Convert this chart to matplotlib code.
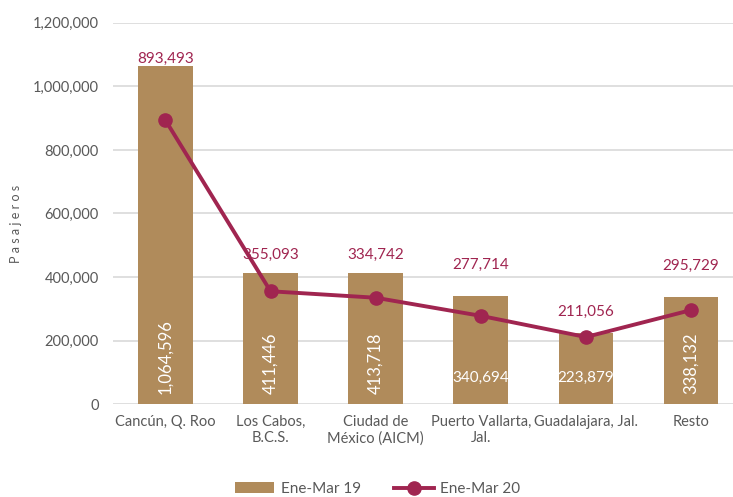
import numpy as np
import matplotlib.pyplot as plt
from matplotlib.ticker import FuncFormatter

# Datos
categorias = ["Cancún, Q. Roo", "Los Cabos,\nB.C.S.", "Ciudad de\nMéxico (AICM)",
              "Puerto Vallarta,\nJal.", "Guadalajara, Jal.", "Resto"]
ene_mar_19 = [1064596, 411446, 413718, 340694, 223879, 338132]
ene_mar_20 = [893493, 355093, 334742, 277714, 211056, 295729]
etiqueta_vertical = [True, True, True, False, False, True]
# separacion de la etiqueta de Ene-Mar 20 sobre la barra
separacion = [22000, 58000, 55000, 97000, 66000, 97000]

color_barra = "#B08B5B"
color_linea = "#A02550"
color_texto = "#595959"

plt.rcParams["font.family"] = ["Lato", "DejaVu Sans"]

fig = plt.figure(figsize=(7.33, 4.97), dpi=100)
ax = fig.add_axes([0.154, 0.187, 0.846, 0.767])

x = np.arange(len(categorias))
bars = ax.bar(x, ene_mar_19, width=0.52, color=color_barra, label="Ene-Mar 19", zorder=2)
linea, = ax.plot(x, ene_mar_20, color=color_linea, lw=2.8, marker="o", markersize=9.5,
                 label="Ene-Mar 20", zorder=3)

# etiquetas de barras
for xi, v, vert in zip(x, ene_mar_19, etiqueta_vertical):
    if vert:
        ax.text(xi, 33000, f"{v:,}", rotation=90, ha="center", va="bottom",
                color="white", fontsize=12)
    else:
        ax.text(xi, 82000, f"{v:,}", ha="center", va="center",
                color="white", fontsize=11)

# etiquetas de linea (sobre las barras)
for xi, b, v, s in zip(x, ene_mar_19, ene_mar_20, separacion):
    ax.text(xi, b + s, f"{v:,}", ha="center", va="center",
            color=color_linea, fontsize=11)

ax.set_xlim(-0.5, 5.4)
ax.set_ylim(0, 1200000)
ax.set_yticks(np.arange(0, 1200001, 200000))
ax.yaxis.set_major_formatter(FuncFormatter(lambda v, p: f"{int(v):,}"))
ax.set_xticks(x)
ax.set_xticklabels(categorias)
ax.tick_params(length=0, colors=color_texto, labelsize=10.5)
ax.tick_params(axis="y", pad=10)
ax.tick_params(axis="x", pad=8)
ax.grid(axis="y", color="#D9D9D9", lw=1.2, zorder=0)
for s in ax.spines.values():
    s.set_visible(False)

fig.text(0.022, 0.55, "P a s a j e r o s", rotation=90, ha="center", va="center",
         color=color_texto, fontsize=9)

fig.legend(handles=[bars, linea], loc="center", bbox_to_anchor=(0.515, 0.016), ncol=2,
           frameon=False, fontsize=11, labelcolor=color_texto, handlelength=2.6,
           columnspacing=2.2, handletextpad=0.4, borderpad=0)

fig.savefig("out.png", dpi=100)
